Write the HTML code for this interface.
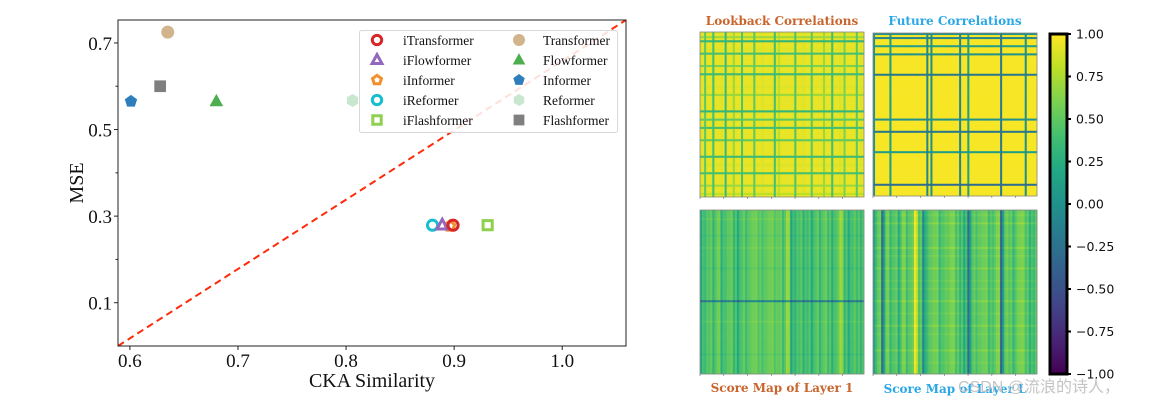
<!DOCTYPE html>
<html><head><meta charset="utf-8">
<style>
html,body{margin:0;padding:0;background:#fff;}
svg{display:block;}
.serif{font-family:"Liberation Serif",serif;}
.sans{font-family:"DejaVu Sans","Liberation Sans",sans-serif;}
</style></head>
<body>
<svg id="root" width="1159" height="406" viewBox="0 0 1159 406" xmlns="http://www.w3.org/2000/svg">
  <g id="scatter"></g>
  <g id="heat"></g>
  <text x="958" y="392" font-size="16" fill="#c4c4c4" font-family="Liberation Sans,'Noto Sans CJK SC',sans-serif">CSDN @流浪的诗人，</text>
</svg>
<script>
// ---------- scatter data ----------
const models = ["iTransformer","iFlowformer","iInformer","iReformer","iFlashformer","Transformer","Flowformer","Informer","Reformer","Flashformer"];
const ckaValues = [0.899,0.889,0.896,0.880,0.931,0.635,0.680,0.601,0.806,0.628];
const mseValues = [0.279,0.279,0.277,0.279,0.279,0.725,0.565,0.565,0.567,0.600];
const markerColors = ["#d62728","#9467bd","#f28e2b","#17becf","#8fd14f","#d2b48c","#4cae4c","#2f7ebc","#c9e6cf","#7f7f7f"];
const markerShapes = ["circle","triangle","pentagon","circle","square","circle","triangle","pentagon","hexagon","square"];
const markerHollow = [true,true,true,true,true,false,false,false,false,false];
const xTicks = [0.6,0.7,0.8,0.9,1.0];
const xTickLabels = ["0.6","0.7","0.8","0.9","1.0"];
const yTicks = [0.1,0.3,0.5,0.7];
const yTickLabels = ["0.1","0.3","0.5","0.7"];
const yMinorTicks = [0.2,0.4,0.6];

// ---------- heatmap stripe data ----------
const lookbackStripes = [0.9,0.5,0.95,0.4,0.95,0.9,0.35,0.95,0.7,0.95,0.45,0.95,0.95,0.5,0.95,0.9,0.95,0.95,0.4,0.8,0.95,0.95,0.95,0.45,0.95,0.9,0.95,0.5,0.95,0.95,0.7,0.95,0.4,0.95,0.9,0.6,0.95,0.95,0.5,0.9];
const lookbackRowStripes = [0.9,0.7,0.3,0.95,0.9,0.4,0.95,0.95,0.6,0.95,0.35,0.95,0.95,0.9,0.95,0.7,0.95,0.95,0.95,0.3,0.95,0.5,0.95,0.4,0.95,0.95,0.5,0.95,0.95,0.95,0.35,0.95,0.9,0.95,0.4,0.95,0.95,0.7,0.95,0.8];
const futureStripes = [0.0,0.98,0.98,0.98,0.1,0.98,0.98,0.98,0.98,0.98,0.98,0.98,0.98,-0.1,0.0,0.98,0.98,0.98,0.98,0.98,0.98,-0.1,0.98,0.1,0.98,0.98,0.98,0.98,0.98,0.98,0.98,-0.2,0.98,0.98,0.98,0.98,0.98,0.0,0.98,0.98];
const futureRowStripes = [0.0,-0.1,0.98,0.1,0.98,0.0,0.98,0.98,0.98,0.98,-0.2,0.98,0.98,0.98,0.98,0.98,0.98,0.98,0.98,0.98,0.98,0.0,0.98,0.98,-0.2,0.98,0.98,0.98,0.98,0.1,0.98,0.98,0.98,0.98,0.98,0.98,0.98,-0.3,0.98,0.98];
const score1Cols = [0.2,0.35,0.45,0.3,0.55,0.25,0.4,0.5,0.3,0.2,0.45,0.35,0.5,0.55,0.45,0.4,0.5,0.55,0.45,0.5,0.35,0.7,0.15,0.3,0.4,0.25,0.35,0.2,0.45,0.3,0.5,0.35,0.25,0.45,0.7,0.3,0.2,0.4,0.35,0.3];
const score1Rows = [0,0,0.05,0,0,0,-0.05,0,0,0.05,0,0,0,0,-0.05,0,0,0,0,0,0,0,-0.6,0,0,0,0,0.05,0,0,0,0,0,0,0,-0.05,0,0,0,0];
const score2Cols = [0.1,0.5,-0.3,0.55,0.3,0.45,0.2,0.6,0.35,0.5,0.95,0.4,-0.1,0.35,0.5,0.55,0.3,0.45,0.5,0.6,0.4,0.3,0.2,-0.3,0.45,0.4,0.5,0.55,0.35,0.4,0.6,-0.4,0.5,0.45,0.3,0.55,0.6,0.4,0.25,0.35];
const score2Rows = [0,0.05,0,0.1,0,0,0.05,0,0,0.1,0,0.05,0,0,0.1,0,0,0.05,0,0.05,0,0,0.1,0,0,0.05,0,0,0.1,0,0.05,0,0,0,0.1,0,0,0.05,0,0];
const cbTicks = [1.0,0.75,0.5,0.25,0.0,-0.25,-0.5,-0.75,-1.0];
const cbTickLabels = ["1.00","0.75","0.50","0.25","0.00","\u22120.25","\u22120.50","\u22120.75","\u22121.00"];

const NS = "http://www.w3.org/2000/svg";
function mk(tag, attrs, parent){const e=document.createElementNS(NS,tag);for(const k in attrs)e.setAttribute(k,attrs[k]);if(parent)parent.appendChild(e);return e;}

// ---------- scatter ----------
const sc = document.getElementById('scatter');
const PL=118, PR=626, PT=20, PB=346;
const X0=0.589, X1=1.059, Y0=0.0, Y1=0.753;
const xs = v => PL + (v-X0)/(X1-X0)*(PR-PL);
const ys = v => PB - (v-Y0)/(Y1-Y0)*(PB-PT);

function shapePath(shape, cx, cy, r){
  if(shape==='triangle'){return `M${cx},${cy-r*1.15} L${cx+r*1.05},${cy+r*0.75} L${cx-r*1.05},${cy+r*0.75} Z`;}
  if(shape==='pentagon'||shape==='hexagon'){const n=shape==='pentagon'?5:6;let d='';for(let i=0;i<n;i++){const a=-Math.PI/2+i*2*Math.PI/n;d+=(i?'L':'M')+(cx+r*Math.cos(a)).toFixed(2)+','+(cy+r*Math.sin(a)).toFixed(2);}return d+'Z';}
  if(shape==='square'){return `M${cx-r*0.9},${cy-r*0.9}h${r*1.8}v${r*1.8}h${-r*1.8}Z`;}
  return `M${cx-r},${cy}a${r},${r} 0 1,0 ${2*r},0a${r},${r} 0 1,0 ${-2*r},0Z`;
}
function drawMarker(parent,i,cx,cy,r){
  const hollow=markerHollow[i];
  return mk('path',{d:shapePath(markerShapes[i],cx,cy,hollow?r*0.78:r),fill:hollow?'none':markerColors[i],stroke:hollow?markerColors[i]:'none','stroke-width':hollow?3:0},parent);
}

mk('rect',{x:PL,y:PT,width:PR-PL,height:PB-PT,fill:'#fff',stroke:'none'},sc);
const diag = mk('line',{x1:xs(X0),y1:ys(Y0),x2:xs(X1),y2:ys(Y1),stroke:'#ff2a0a','stroke-width':2,'stroke-dasharray':'7,4.5'},sc);


for(let i=models.length-1;i>=0;i--){
  const g = mk('g',{},sc);
  
  
  drawMarker(g,i,xs(ckaValues[i]),ys(mseValues[i]),6.5);
}
mk('rect',{x:PL,y:PT,width:PR-PL,height:PB-PT,fill:'none',stroke:'#222','stroke-width':1},sc);
xTicks.forEach((t,i)=>{
  const x=xs(t);
  mk('line',{x1:x,y1:PB,x2:x,y2:PB+4,stroke:'#222'},sc);
  const tx=mk('text',{x:x,y:PB+21,'text-anchor':'middle','font-size':19,class:'serif',fill:'#111'},sc);
  tx.textContent=xTickLabels[i];
  
  
});
yTicks.forEach((t,i)=>{
  const y=ys(t);
  mk('line',{x1:PL-4,y1:y,x2:PL,y2:y,stroke:'#222'},sc);
  const tx=mk('text',{x:PL-6,y:y+7,'text-anchor':'end','font-size':19,class:'serif',fill:'#111'},sc);
  tx.textContent=yTickLabels[i];
  
  
});
yMinorTicks.forEach(t=>{const y=ys(t);mk('line',{x1:PL-2.5,y1:y,x2:PL,y2:y,stroke:'#222'},sc);});
const xt=mk('text',{x:372,y:387,'text-anchor':'middle','font-size':20,class:'serif',fill:'#111'},sc);
xt.textContent='CKA Similarity';


const yt=mk('text',{x:0,y:0,'text-anchor':'middle','font-size':20,class:'serif',fill:'#111',transform:'translate(83,183) rotate(-90)'},sc);
yt.textContent='MSE';


const lg=mk('g',{},sc);


mk('rect',{x:359.5,y:30.5,width:258,height:102,rx:2,fill:'#fff','fill-opacity':0.85,stroke:'#d8d8d8'},lg);
models.forEach((m,i)=>{
  const col=i<5?0:1, row=i%5;
  const mx=col?519:377, tx=col?543:403, y=40+row*20;
  const e=mk('g',{},lg);
  
  
  drawMarker(e,i,mx,y,6);
  const t=mk('text',{x:tx,y:y+5,'font-size':13.5,class:'serif',fill:'#111'},e);
  t.textContent=m;
});

// ---------- heatmaps ----------
const hm=document.getElementById('heat');
const VIR=[[68,1,84],[72,36,117],[65,68,135],[53,95,141],[42,120,142],[33,145,140],[34,168,132],[68,191,112],[122,209,81],[189,223,38],[253,231,37]];
function viridis(v){
  let t=(Math.max(-1,Math.min(1,v))+1)/2*10;const i=Math.min(9,Math.floor(t)),f=t-i;
  const a=VIR[i],b=VIR[i+1];
  return `rgb(${Math.round(a[0]+(b[0]-a[0])*f)},${Math.round(a[1]+(b[1]-a[1])*f)},${Math.round(a[2]+(b[2]-a[2])*f)})`;
}
// each data index maps to 2 sub-cells: stripe sub-cell + background sub-cell (thin lines)
function panel(name,x,y,w,h,cols,rows,mode,bg){
  const g=mk('g',{},hm);
  
  
  const n=cols.length*2, m=rows.length*2, cw=w/n, ch=h/m;
  for(let r=0;r<m;r++)for(let c=0;c<n;c++){
    const rs=(r%2===0), cs=(c%2===0);
    let v;
    if(mode==='corr'){
      const cv=cs?cols[c>>1]:bg, rv=rs?rows[r>>1]:bg;
      v=Math.min(cv,rv);
    } else {
      v=(cs?cols[c>>1]:(cols[c>>1]+0.4)/2+0.1)+(rs?rows[r>>1]:0);
    }
    mk('rect',{x:(x+c*cw).toFixed(2),y:(y+r*ch).toFixed(2),width:(cw+0.3).toFixed(2),height:(ch+0.3).toFixed(2),fill:viridis(v)},g);
  }
  mk('rect',{x:x,y:y,width:w,height:h,fill:'none',stroke:'#888','stroke-width':0.8},g);
  for(let k=0;k<7;k++){const tx=x+w*(k/6.9);mk('line',{x1:tx,y1:y+h,x2:tx,y2:y+h+2,stroke:'#666','stroke-width':0.6},g);}
}
panel('lookback-correlations-heatmap',700,32,164,165,lookbackStripes,lookbackRowStripes,'corr',0.93);
panel('future-correlations-heatmap',873,33,164,163,futureStripes,futureRowStripes,'corr',0.98);
panel('score-map-layer1-heatmap',700,210,164,164,score1Cols,score1Rows,'score');
panel('score-map-layer-l-heatmap',873,210,164,164,score2Cols,score2Rows,'score');

function title(txt,x,y,color,nm){
  const t=mk('text',{x:x,y:y,'text-anchor':'middle','font-size':12,'font-weight':'bold',fill:color,'font-family':'"DejaVu Serif","Liberation Serif",serif'},hm);
  t.textContent=txt;
  
  
}
title('Lookback Correlations',782,25,'#c8642c','lookback-title');
title('Future Correlations',955,25,'#2aa7e6','future-title');
title('Score Map of Layer 1',782,392,'#c8642c','score-map-1-title');
title('Score Map of Layer L',955,393,'#2aa7e6','score-map-l-title');

const cb=mk('g',{},hm);


const CT=34, CB=374, CX=1050, CW=17;
const defs=mk('defs',{},cb);
const grad=mk('linearGradient',{id:'vg',x1:0,y1:1,x2:0,y2:0},defs);
VIR.forEach((c,i)=>mk('stop',{offset:i/10,'stop-color':`rgb(${c[0]},${c[1]},${c[2]})`},grad));
mk('rect',{x:CX,y:CT,width:CW,height:CB-CT,fill:'url(#vg)',stroke:'#000','stroke-width':3},cb);
const cy=v=>CB-(v+1)/2*(CB-CT);
cbTicks.forEach((t,i)=>{
  const y=cy(t);
  mk('line',{x1:CX+CW,y1:y,x2:CX+CW+4,y2:y,stroke:'#000','stroke-width':2},cb);
  const tx=mk('text',{x:CX+CW+9,y:y+4.5,'font-size':12.5,class:'sans',fill:'#111'},cb);
  tx.textContent=cbTickLabels[i];
  
  
});
</script>
</body></html>
